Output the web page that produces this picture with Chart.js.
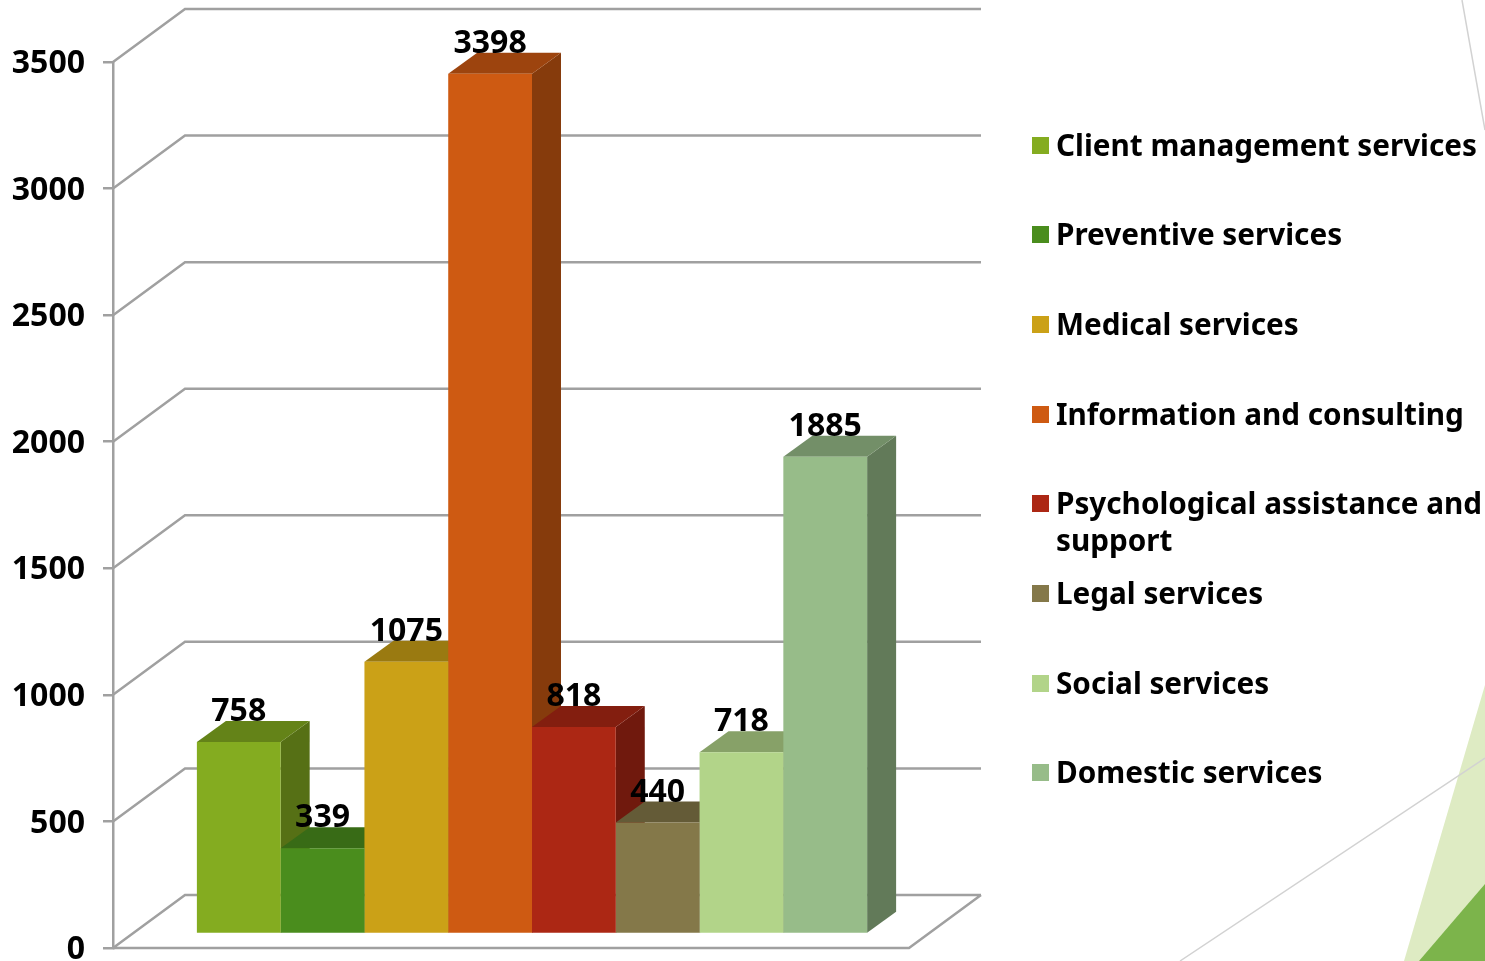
<!DOCTYPE html>
<html>
<head>
<meta charset="utf-8">
<title>Services</title>
<script src="https://cdn.jsdelivr.net/npm/chart.js"></script>
<style>
  html, body { margin: 0; padding: 0; background: #fff; overflow: hidden; }
  #wrap { position: relative; width: 1485px; height: 961px; }
  canvas { position: absolute; left: 0; top: 0; }
  .item { position: absolute; left: 1056px; width: 429px; color: #000; font: 700 29.7px/37px "Noto Sans", sans-serif; white-space: nowrap; }
  .item i { position: absolute; left: -24px; top: 11px; width: 17px; height: 17px; }
</style>
</head>
<body>
<div id="wrap">
  <canvas id="servicesChart" width="1485" height="961"></canvas>
  <div id="legend"></div>
</div>
<script>
const categories = ['Client management services', 'Preventive services', 'Medical services', 'Information and consulting',
    'Psychological assistance and support', 'Legal services', 'Social services', 'Domestic services'];
const values = [758, 339, 1075, 3398, 818, 440, 718, 1885];
const colors = ['#84AC20', '#4A8D1D', '#CBA117', '#CE5A12', '#AC2714', '#847849', '#B2D489', '#97BC89'];
const yTicks = [0, 500, 1000, 1500, 2000, 2500, 3000, 3500];

const FONT = '700 32px "Noto Sans", sans-serif';
const GRID = '#A0A0A0';

function shade(hex, f) {
    const n = parseInt(hex.slice(1), 16);
    return 'rgb(' + Math.round((n >> 16) * f) + ',' + Math.round(((n >> 8) & 255) * f) + ',' + Math.round((n & 255) * f) + ')';
}

function poly(ctx, pts, fill) {
    ctx.beginPath();
    pts.forEach((p, i) => i ? ctx.lineTo(p[0], p[1]) : ctx.moveTo(p[0], p[1]));
    ctx.closePath();
    ctx.fillStyle = fill;
    ctx.fill();
}

// slide background shapes
const backdrop = {
    id: 'backdrop',
    beforeDraw(chart) {
        const ctx = chart.ctx;
        poly(ctx, [[1404, 961], [1485, 685], [1485, 961]], '#DEEBC3');
        poly(ctx, [[1419, 961], [1485, 884], [1485, 961]], '#7CB44B');
        ctx.strokeStyle = '#D2D2D2';
        ctx.lineWidth = 1.5;
        ctx.beginPath();
        ctx.moveTo(1180, 961); ctx.lineTo(1485, 758);
        ctx.moveTo(1462, 0); ctx.lineTo(1485, 130);
        ctx.stroke();
    }
};

// walls and floor of the fake 3D box
const WALL_DX = 72, WALL_DY = -53;
const walls = {
    id: 'walls',
    beforeDatasetsDraw(chart) {
        const ctx = chart.ctx, y = chart.scales.y, a = chart.chartArea;
        ctx.save();
        ctx.strokeStyle = GRID;
        ctx.lineWidth = 2.5;
        ctx.beginPath();
        yTicks.forEach(v => {
            const py = y.getPixelForValue(v);
            ctx.moveTo(a.left, py);
            ctx.lineTo(a.left + WALL_DX, py + WALL_DY);
            ctx.lineTo(a.right + WALL_DX, py + WALL_DY);
        });
        ctx.moveTo(a.left, a.bottom);
        ctx.lineTo(a.right, a.bottom);
        ctx.lineTo(a.right + WALL_DX, a.bottom + WALL_DY);
        ctx.stroke();
        ctx.restore();
    }
};

// bars stand a little inside the box, with a side and a top face
const BAR_DX = 21, BAR_DY = -14, DEPTH_X = 29, DEPTH_Y = -21;
const depth = {
    id: 'depth',
    beforeDatasetsDraw(chart) {
        const ctx = chart.ctx;
        ctx.save();
        ctx.translate(BAR_DX, BAR_DY);
        chart.data.datasets.forEach((ds, i) => {
            const b = chart.getDatasetMeta(i).data[0];
            const l = b.x - b.width / 2, r = b.x + b.width / 2;
            poly(ctx, [[r, b.y], [r + DEPTH_X, b.y + DEPTH_Y], [r + DEPTH_X, b.base + DEPTH_Y], [r, b.base]], shade(colors[i], 0.65));
            poly(ctx, [[l, b.y], [l + DEPTH_X, b.y + DEPTH_Y], [r + DEPTH_X, b.y + DEPTH_Y], [r, b.y]], shade(colors[i], 0.76));
        });
    },
    afterDatasetsDraw(chart) {
        const ctx = chart.ctx;
        ctx.fillStyle = '#000';
        ctx.font = FONT;
        ctx.textAlign = 'center';
        ctx.textBaseline = 'middle';
        chart.data.datasets.forEach((ds, i) => {
            const b = chart.getDatasetMeta(i).data[0];
            ctx.fillText(String(ds.data[0]), b.x, b.y - 30);
        });
        ctx.restore();
    }
};

new Chart(document.getElementById('servicesChart'), {
    type: 'bar',
    data: {
        labels: [''],
        datasets: categories.map((name, i) => ({
            label: name,
            data: [values[i]],
            backgroundColor: colors[i],
            borderWidth: 0,
            categoryPercentage: 0.842,
            barPercentage: 1,
            clip: false
        }))
    },
    options: {
        responsive: false,
        animation: false,
        layout: { padding: { left: 0, top: 62, right: 576, bottom: 13 } },
        plugins: { legend: { display: false }, tooltip: { enabled: false } },
        scales: {
            x: { display: false },
            y: {
                min: 0,
                max: 3500,
                afterFit(scale) { scale.width = 113; scale.paddingTop = 0; scale.paddingBottom = 0; },
                afterBuildTicks(scale) { scale.ticks = yTicks.map(v => ({ value: v })); },
                border: { color: GRID, width: 2.5 },
                grid: { drawOnChartArea: false, tickLength: 10, color: GRID, lineWidth: 2.5 },
                ticks: { color: '#000', font: { family: '"Noto Sans", sans-serif', size: 32, weight: '700' }, padding: 18, labelOffset: 2, callback: v => String(v) }
            }
        }
    },
    plugins: [backdrop, walls, depth]
});

const legend = document.getElementById('legend');
categories.forEach((name, i) => {
    const el = document.createElement('div');
    el.className = 'item';
    el.style.top = (144 + i * 89.7 - 18.5) + 'px';
    el.innerHTML = '<i style="background:' + colors[i] + '"></i>' + name.replace(' and support', ' and<br>support');
    legend.appendChild(el);
});
</script>
</body>
</html>
